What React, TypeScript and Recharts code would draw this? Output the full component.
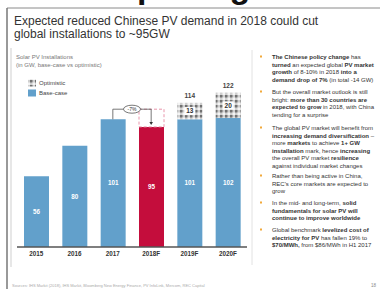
import React from 'react';
import { BarChart, Bar, XAxis, YAxis, Cell, LabelList, ReferenceLine } from 'recharts';

const years = ['2015', '2016', '2017', '2018F', '2019F', '2020F'];
const baseCase = [56, 80, 101, 95, 101, 102];
const optimisticExtra = [null, null, null, null, 13, 20];
const totals = [null, null, null, null, 114, 122];
const expectedGap = [null, null, null, 14, null, null];
const expected2018 = 109;
const arrowTip2018 = 96.5;
const dropLabel = '-7%';

const data = years.map((y, i) => ({
  year: y,
  base: baseCase[i],
  opt: optimisticExtra[i],
  total: totals[i],
  gap: expectedGap[i],
}));

const BLUE = '#62A0CB';
const RED = '#C40D3C';
const FONT = '"Liberation Sans", Arial, sans-serif';

type Seg = [string, boolean];
const bullets: Seg[][][] = [
  [
    [['The Chinese policy change ', true], ['has', false]],
    [['turned ', true], ['an expected global ', false], ['PV market', true]],
    [['growth ', true], ['of 8-10% in 2018 ', false], ['into a', true]],
    [['demand drop of 7% ', true], ['(in total -14 GW)', false]],
  ],
  [
    [['But the overall market outlook is still', false]],
    [['bright: ', false], ['more than 30 countries are', true]],
    [['expected to grow ', true], ['in 2018, with China', false]],
    [['tending for a surprise', false]],
  ],
  [
    [['The global PV market will benefit from', false]],
    [['increasing demand diversification', true], [' \u2013', false]],
    [['more ', false], ['markets ', true], ['to achieve ', false], ['1+ GW', true]],
    [['installation ', true], ['mark, hence ', false], ['increasing', true]],
    [['the overall PV market ', false], ['resilience', true]],
    [['against individual market changes', false]],
  ],
  [
    [['Rather than being active in China,', false]],
    [["REC's core markets are expected to", false]],
    [['grow', false]],
  ],
  [
    [['In the mid- and long-term, ', false], ['solid', true]],
    [['fundamentals for solar PV will', true]],
    [['continue to improve worldwide', true]],
  ],
  [
    [['Global benchmark ', false], ['levelized cost of', true]],
    [['electricity for PV ', true], ['has fallen 19% to', false]],
    [['$70/MWh, ', true], ['from $86/MWh in H1 2017', false]],
  ],
];
const bulletStarts = [59, 94, 130, 178, 205, 232];
const lineGap = 7.6;

const CheckerDefs = ({ id }: { id: string }) => (
  <defs>
    <pattern id={id} width="5" height="5" patternUnits="userSpaceOnUse">
      <rect width="5" height="5" fill="#cfcfcf" />
      <rect x="0" y="0" width="2.5" height="2.5" fill="#727272" />
      <rect x="2.5" y="2.5" width="2.5" height="2.5" fill="#f4f4f4" />
    </pattern>
  </defs>
);

const OptLabel = (props: any) => {
  const { x, y, width, height, value } = props;
  if (value == null || !value) return null;
  const cx = Number(x) + Number(width) / 2;
  const cy = Number(y) + Number(height) / 2;
  return (
    <g>
      <rect x={cx - 5.5} y={cy - 4} width={11} height={8} fill="#fff" />
      <text x={cx} y={cy + 2.2} textAnchor="middle" fontSize={6.5} fontWeight="bold" fill="#333" fontFamily={FONT}>
        {value}
      </text>
    </g>
  );
};

const TotalLabel = (props: any) => {
  const { x, y, width, value } = props;
  if (value == null) return null;
  return (
    <text x={Number(x) + Number(width) / 2} y={Number(y) - 4.5} textAnchor="middle" fontSize={6.5} fontWeight="bold" fill="#444" fontFamily={FONT}>
      {value}
    </text>
  );
};

const BaseLabel = (props: any) => {
  const { x, y, width, height, value } = props;
  return (
    <text x={Number(x) + Number(width) / 2} y={Number(y) + Number(height) / 2 + 2.2} textAnchor="middle" fontSize={6.3} fontWeight="bold" fill="#fff" fontFamily={FONT}>
      {value}
    </text>
  );
};

const Tick = (props: any) => {
  const { x, y, payload } = props;
  return (
    <text x={x} y={Number(y) + 9} textAnchor="middle" fontSize={6.3} fontWeight="bold" fill="#333" fontFamily={FONT}>
      {payload.value}
    </text>
  );
};

const PlainSeg = (props: any) => {
  const { x1, y1, x2, y2 } = props;
  return <line x1={x1} y1={y1} x2={x2} y2={y2} stroke="#555" strokeWidth={0.8} />;
};

const MidSeg = (props: any) => {
  const { x1, y1, x2, y2 } = props;
  const mx = (Number(x1) + Number(x2)) / 2;
  const my = Number(y1);
  return (
    <g>
      <line x1={x1} y1={y1} x2={x2} y2={y2} stroke="#555" strokeWidth={0.8} />
      <ellipse cx={mx} cy={my} rx={8.5} ry={4} fill="#fff" stroke="#555" strokeWidth={0.8} />
      <text x={mx} y={my + 1.8} textAnchor="middle" fontSize={5} fill="#333" fontFamily={FONT}>
        {dropLabel}
      </text>
    </g>
  );
};

const ArrowSeg = (props: any) => {
  const { x1, y1, x2, y2 } = props;
  const tx = Number(x2);
  const ty = Number(y2);
  return (
    <g>
      <line x1={x1} y1={y1} x2={x2} y2={ty - 2} stroke="#555" strokeWidth={0.8} />
      <polygon points={`${tx - 1.8},${ty - 3} ${tx + 1.8},${ty - 3} ${tx},${ty}`} fill="#333" />
    </g>
  );
};

export default function App() {
  return (
    <div style={{ position: 'absolute', left: 0, top: 0, width: 380, height: 289, background: '#fff', overflow: 'hidden', fontFamily: FONT }}>
      <svg width={380} height={289} style={{ position: 'absolute', left: 0, top: 0 }}>
        <CheckerDefs id="chkLegend" />
        <text x={137} y={-2} fontSize={34} fontWeight="bold" fill="#111" fontFamily={FONT}>pricing</text>
        <line x1={7} y1={8} x2={380} y2={8} stroke="#8a8a8a" strokeWidth={1} />
        <line x1={7} y1={8} x2={7} y2={289} stroke="#777" strokeWidth={1.5} />
        <line x1={11} y1={48} x2={11} y2={267} stroke="#cfcfcf" strokeWidth={1} />
        <line x1={252} y1={50} x2={252} y2={265} stroke="#e2e2e2" strokeWidth={1} />
        <text x={14} y={25} fontSize={12} fill="#333" fontFamily={FONT}>Expected reduced Chinese PV demand in 2018 could cut</text>
        <text x={14} y={38} fontSize={12} fill="#333" fontFamily={FONT}>global installations to ~95GW</text>
        <text x={16} y={59} fontSize={6} fill="#777" fontFamily={FONT}>Solar PV Installations</text>
        <text x={16} y={67} fontSize={6} fill="#777" fontFamily={FONT}>(in GW, base-case vs optimistic)</text>
        <rect x={28} y={79.5} width={8} height={7} fill="url(#chkLegend)" />
        <text x={39} y={85} fontSize={6} fill="#444" fontFamily={FONT}>Optimistic</text>
        <rect x={28} y={89.5} width={8} height={7} fill={BLUE} />
        <text x={39} y={95} fontSize={6} fill="#444" fontFamily={FONT}>Base-case</text>
        {bullets.map((b, bi) => (
          <g key={bi}>
            <rect x={260} y={bulletStarts[bi] - 3.5} width={2} height={2} fill="#F2A93B" />
            {b.map((line, li) => (
              <text key={li} x={272} y={bulletStarts[bi] + li * lineGap} fontSize={6} fill="#333" fontFamily={FONT}>
                {line.map((s, si) => (
                  <tspan key={si} fontWeight={s[1] ? 'bold' : 'normal'}>{s[0]}</tspan>
                ))}
              </text>
            ))}
          </g>
        ))}
        <text x={12} y={287} fontSize={4} fill="#aaa" fontFamily={FONT}>
          Sources: IHS Markit (2018), IHS Markit, Bloomberg New Energy Finance, PV InfoLink, Mercom, REC Capital
        </text>
        <text x={371} y={287} fontSize={4.5} fill="#888" fontFamily={FONT}>18</text>
      </svg>
      <div style={{ position: 'absolute', left: 0, top: 0 }}>
        <BarChart width={250} height={289} data={data} margin={{ top: 70, right: 3, left: 17, bottom: 30 }} barCategoryGap={0}>
          <CheckerDefs id="chkBar" />
          <XAxis
            dataKey="year"
            height={12}
            axisLine={{ stroke: '#555', strokeWidth: 1.5 }}
            tickLine={false}
            tickSize={0}
            tickMargin={0}
            interval={0}
            tick={<Tick />}
          />
          <YAxis hide domain={[0, 140]} />
          <Bar dataKey="base" stackId="a" barSize={25} isAnimationActive={false}>
            {data.map((d, i) => (
              <Cell key={i} fill={d.year === '2018F' ? RED : BLUE} />
            ))}
            <LabelList dataKey="base" content={<BaseLabel />} />
          </Bar>
          <Bar dataKey="opt" stackId="a" barSize={25} fill="url(#chkBar)" isAnimationActive={false}>
            <LabelList dataKey="opt" content={<OptLabel />} />
            <LabelList dataKey="total" content={<TotalLabel />} />
          </Bar>
          <Bar dataKey="gap" stackId="a" barSize={25} fill="none" stroke="#E996AC" strokeWidth={1} strokeDasharray="3 2" isAnimationActive={false} />
          <ReferenceLine segment={[{ x: '2017', y: baseCase[2] }, { x: '2017', y: expected2018 }]} shape={<PlainSeg />} />
          <ReferenceLine segment={[{ x: '2018F', y: expected2018 }, { x: '2018F', y: arrowTip2018 }]} shape={<ArrowSeg />} />
          <ReferenceLine segment={[{ x: '2017', y: expected2018 }, { x: '2018F', y: expected2018 }]} shape={<MidSeg />} />
        </BarChart>
      </div>
    </div>
  );
}
